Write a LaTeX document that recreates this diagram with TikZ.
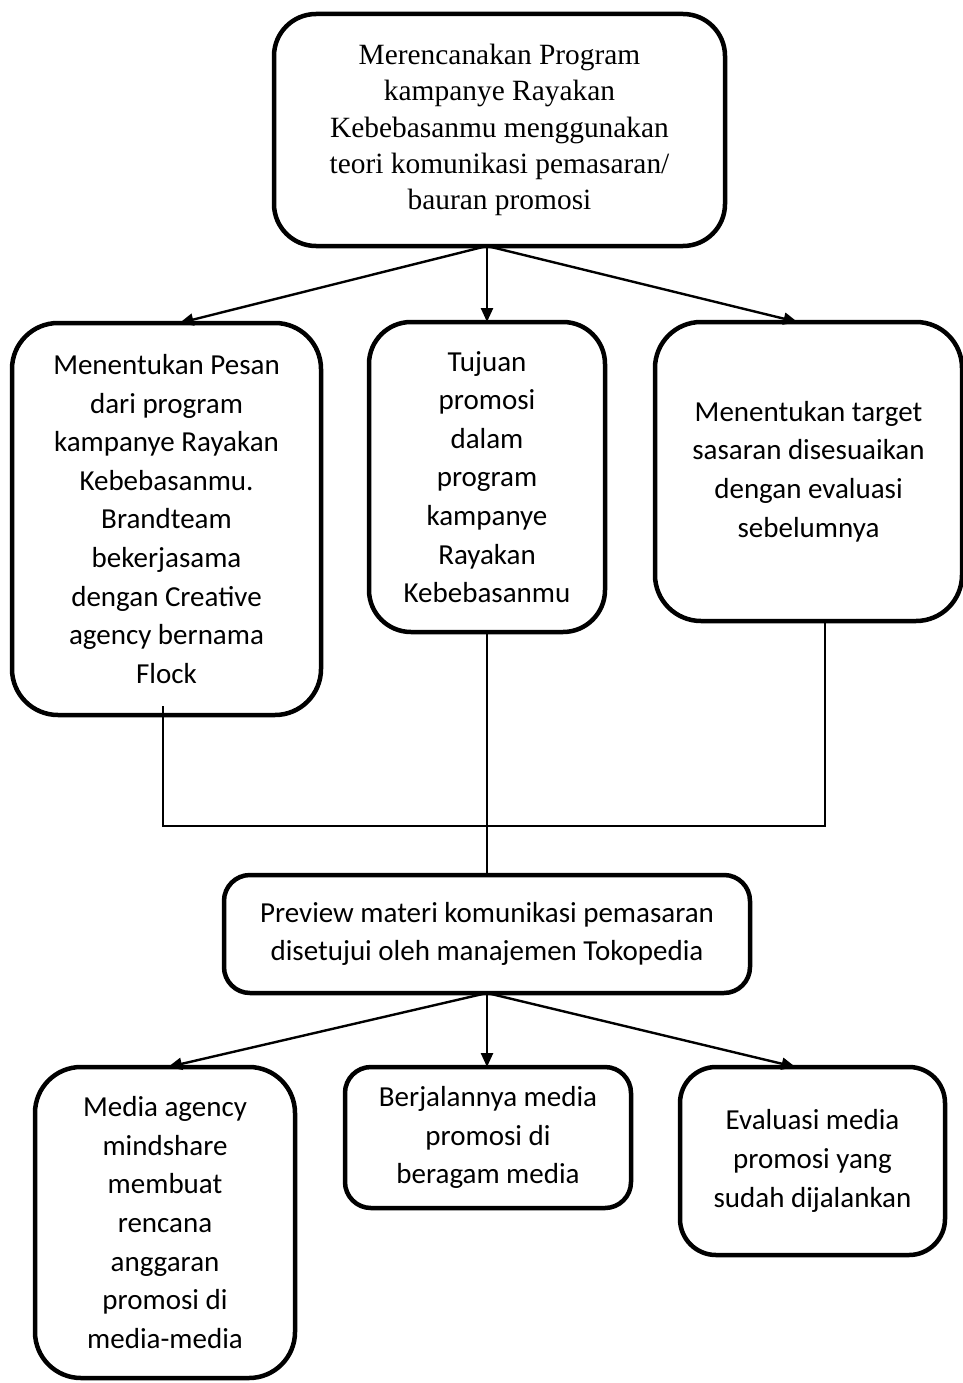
\documentclass[tikz,border=0pt]{standalone}
\usepackage{fontspec}
\setmainfont{Liberation Serif}
\newfontfamily\calibri{Carlito}
\usetikzlibrary{positioning,arrows.meta}

\begin{document}
\begin{tikzpicture}[x=1pt,y=-1pt]
  \tikzset{BoxStyle/.style = {
    shape         = rectangle,
    draw          = black,
    fill          = white,
    line width    = 4.5pt,
    rounded corners = 42pt,
    text          = black,
    align         = center,
    inner sep     = 0pt,
    outer sep     = 0pt,
    font          = \calibri\fontsize{29}{38.6}\selectfont
    }
  }
  \tikzset{SerifStyle/.style = {
    font          = \fontsize{29.4}{36.3}\selectfont
    }
  }
  \tikzset{ArrowStyle/.style = {
    draw          = black,
    line width    = 2.4pt,
    -{Triangle[length=14pt,width=12pt]}
    }
  }
  \tikzset{LineStyle/.style = {
    draw          = black,
    line width    = 1.8pt
    }
  }

  \useasboundingbox (0,0) rectangle (962,1383);

	\node[BoxStyle, SerifStyle, minimum width=451, minimum height=232](A1) at (499.5, 130) {Merencanakan Program\\ kampanye Rayakan\\ Kebebasanmu menggunakan\\ teori komunikasi pemasaran/\\ bauran promosi};
	%
	\node[BoxStyle, minimum width=309, minimum height=392, rounded corners=46pt](B1) at (166.5, 519) {Menentukan Pesan\\ dari program\\ kampanye Rayakan\\ Kebebasanmu.\\ Brandteam\\ bekerjasama\\ dengan Creative\\ agency bernama\\ Flock};
	\node[BoxStyle, minimum width=236, minimum height=310](B2) at (487, 477) {Tujuan\\ promosi\\ dalam\\ program\\ kampanye\\ Rayakan\\ Kebebasanmu};
	\node[BoxStyle, minimum width=307, minimum height=299, rounded corners=46pt](B3) at (808.5, 471.5) {Menentukan target\\ sasaran disesuaikan\\ dengan evaluasi\\ sebelumnya};
	%
	\node[BoxStyle, minimum width=526, minimum height=118, rounded corners=26pt](C1) at (487, 934) {Preview materi komunikasi pemasaran\\ disetujui oleh manajemen Tokopedia};
	%
	\node[BoxStyle, minimum width=260, minimum height=311, rounded corners=46pt](D1) at (165, 1222.5) {Media agency\\ mindshare\\ membuat\\ rencana\\ anggaran\\ promosi di\\ media-media};
	\node[BoxStyle, minimum width=286, minimum height=141, rounded corners=26pt](D2) at (488, 1137.5) {Berjalannya media\\ promosi di\\ beragam media};
	\node[BoxStyle, minimum width=265, minimum height=188, rounded corners=36pt](D3) at (812.5, 1161) {Evaluasi media\\ promosi yang\\ sudah dijalankan};

	\coordinate (J1) at (487, 826);

	%
	\draw[ArrowStyle](A1.south -| B2) to ([xshift=13pt]B1.north);
	\draw[ArrowStyle](A1.south -| B2) to (B2.north);
	\draw[ArrowStyle](A1.south -| B2) to ([xshift=-11pt]B3.north);
	\draw[LineStyle]([xshift=-3.5pt,yshift=9pt]B1.south) |- (J1) -| ([xshift=16.5pt]B3.south);
	\draw[LineStyle](B2.south) to (C1.north);
	\draw[ArrowStyle](C1.south) to ([xshift=3pt]D1.north);
	\draw[ArrowStyle](C1.south) to (D2.north -| C1);
	\draw[ArrowStyle](C1.south) to ([xshift=-17pt]D3.north);

\end{tikzpicture}
\end{document}
